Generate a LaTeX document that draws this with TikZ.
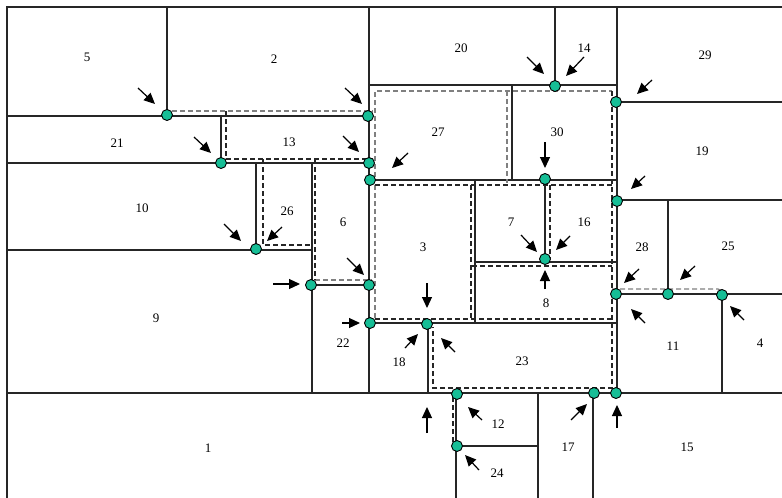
\documentclass[tikz,border=0pt]{standalone}
\usepackage{fontspec}
\setmainfont{Liberation Serif}
\usetikzlibrary{arrows.meta}
\definecolor{dotgreen}{RGB}{22,190,150}
\tikzset{
  wall/.style={line width=1.3pt,black!85},
  cut/.style={line width=1.2pt,dash pattern=on 5pt off 3pt,black!85},
  cutgray/.style={line width=1.2pt,dash pattern=on 5pt off 3pt,black!50},
  junc/.style={circle,draw=black,line width=0.9pt,fill=dotgreen,inner sep=0pt,minimum size=11pt},
  hint/.style={-{Triangle[length=11pt,width=10pt]},line width=1.2pt},
  room/.style={font=\fontsize{13}{15}\selectfont}
}
\begin{document}
\begin{tikzpicture}[x=1pt,y=-1pt,line cap=butt,line join=miter]
  \useasboundingbox (0,0) rectangle (782,498);
  % walls
  \draw[wall] (782,7) -- (7,7) -- (7,498);
  \draw[wall] (167,7) -- (167,116);
  \draw[wall] (7,116) -- (369,116);
  \draw[wall] (369,7) -- (369,393);
  \draw[wall] (369,85) -- (617,85);
  \draw[wall] (555,7) -- (555,85);
  \draw[wall] (617,7) -- (617,393);
  \draw[wall] (617,102) -- (782,102);
  \draw[wall] (7,163) -- (369,163);
  \draw[wall] (221,116) -- (221,163);
  \draw[wall] (256,163) -- (256,250);
  \draw[wall] (7,250) -- (312,250);
  \draw[wall] (312,163) -- (312,393);
  \draw[wall] (312,285) -- (369,285);
  \draw[wall] (369,180) -- (617,180);
  \draw[wall] (512,85) -- (512,180);
  \draw[wall] (475,180) -- (475,323);
  \draw[wall] (545,180) -- (545,262);
  \draw[wall] (475,262) -- (617,262);
  \draw[wall] (369,323) -- (617,323);
  \draw[wall] (428,323) -- (428,393);
  \draw[wall] (7,393) -- (782,393);
  \draw[wall] (617,200) -- (782,200);
  \draw[wall] (668,200) -- (668,294);
  \draw[wall] (617,294) -- (782,294);
  \draw[wall] (722,294) -- (722,393);
  \draw[wall] (456,393) -- (456,498);
  \draw[wall] (456,446) -- (538,446);
  \draw[wall] (538,393) -- (538,498);
  \draw[wall] (593,393) -- (593,498);
  % cut outlines
  \draw[cutgray] (172,111) -- (373,111);
  \draw[cutgray] (375,177) -- (375,91) -- (612,91);
  \draw[cutgray] (507,91) -- (507,183);
  \draw[cutgray] (375,185) -- (375,318);
  \draw[cutgray] (315,280) -- (372,280);
  \draw[cutgray,rounded corners=4pt] (612,289) -- (722,289) -- (722,294);
  \draw[cut] (226,111) -- (226,159) -- (373,159);
  \draw[cut] (263,159) -- (263,245) -- (312,245);
  \draw[cut] (315,159) -- (315,280);
  \draw[cut] (612,91) -- (612,388) -- (433,388) -- (433,327);
  \draw[cut] (375,185) -- (612,185);
  \draw[cut] (471,185) -- (471,318);
  \draw[cut] (375,319) -- (611,319);
  \draw[cut] (550,185) -- (550,258);
  \draw[cut] (472,266) -- (612,266);
  \draw[cut] (453,397) -- (453,447);
  % junctions
  \node[junc] (j1) at (167,115) {};
  \node[junc] (j2) at (368,116) {};
  \node[junc] (j3) at (221,163) {};
  \node[junc] (j4) at (369,163) {};
  \node[junc] (j5) at (370,180) {};
  \node[junc] (j6) at (256,249) {};
  \node[junc] (j7) at (311,285) {};
  \node[junc] (j8) at (369,285) {};
  \node[junc] (j9) at (370,323) {};
  \node[junc] (j10) at (427,324) {};
  \node[junc] (j11) at (555,86) {};
  \node[junc] (j12) at (616,102) {};
  \node[junc] (j13) at (545,179) {};
  \node[junc] (j14) at (617,201) {};
  \node[junc] (j15) at (545,259) {};
  \node[junc] (j16) at (616,294) {};
  \node[junc] (j17) at (668,294) {};
  \node[junc] (j18) at (722,295) {};
  \node[junc] (j19) at (457,394) {};
  \node[junc] (j20) at (457,446) {};
  \node[junc] (j21) at (594,393) {};
  \node[junc] (j22) at (616,393) {};
  % hints
  \draw[hint] (138,88) -- (155,104);
  \draw[hint] (345,88) -- (362,104);
  \draw[hint] (194,137) -- (211,153);
  \draw[hint] (343,136) -- (359,152);
  \draw[hint] (408,153) -- (392,168);
  \draw[hint] (224,224) -- (241,241);
  \draw[hint] (282,227) -- (267,241);
  \draw[hint] (347,258) -- (364,275);
  \draw[hint] (273,284) -- (300,284);
  \draw[hint] (342,323) -- (360,323);
  \draw[hint] (427,283) -- (427,308);
  \draw[hint] (405,348) -- (418,334);
  \draw[hint] (455,352) -- (441,338);
  \draw[hint] (427,433) -- (427,407);
  \draw[hint] (482,420) -- (468,407);
  \draw[hint] (479,470) -- (465,455);
  \draw[hint] (571,420) -- (587,404);
  \draw[hint] (617,428) -- (617,405);
  \draw[hint] (645,323) -- (631,309);
  \draw[hint] (744,320) -- (730,306);
  \draw[hint] (639,269) -- (624,283);
  \draw[hint] (695,266) -- (680,280);
  \draw[hint] (652,80) -- (637,94);
  \draw[hint] (527,57) -- (544,74);
  \draw[hint] (584,57) -- (566,76);
  \draw[hint] (645,176) -- (631,189);
  \draw[hint] (545,142) -- (545,168);
  \draw[hint] (521,235) -- (537,252);
  \draw[hint] (570,236) -- (556,250);
  \draw[hint] (545,289) -- (545,270);
  % room numbers
  \node[room] (r1) at (208,448) {1};
  \node[room] (r2) at (274,59) {2};
  \node[room] (r3) at (423,247) {3};
  \node[room] (r4) at (760,343) {4};
  \node[room] (r5) at (87,57) {5};
  \node[room] (r6) at (343,222) {6};
  \node[room] (r7) at (511,222) {7};
  \node[room] (r8) at (546,303) {8};
  \node[room] (r9) at (156,318) {9};
  \node[room] (r10) at (142,208) {10};
  \node[room] (r11) at (673,346) {11};
  \node[room] (r12) at (498,424) {12};
  \node[room] (r13) at (289,142) {13};
  \node[room] (r14) at (584,48) {14};
  \node[room] (r15) at (687,447) {15};
  \node[room] (r16) at (584,222) {16};
  \node[room] (r17) at (568,447) {17};
  \node[room] (r18) at (399,362) {18};
  \node[room] (r19) at (702,151) {19};
  \node[room] (r20) at (461,48) {20};
  \node[room] (r21) at (117,143) {21};
  \node[room] (r22) at (343,343) {22};
  \node[room] (r23) at (522,361) {23};
  \node[room] (r24) at (497,473) {24};
  \node[room] (r25) at (728,246) {25};
  \node[room] (r26) at (287,211) {26};
  \node[room] (r27) at (438,132) {27};
  \node[room] (r28) at (642,247) {28};
  \node[room] (r29) at (705,55) {29};
  \node[room] (r30) at (557,132) {30};
\end{tikzpicture}
\end{document}
